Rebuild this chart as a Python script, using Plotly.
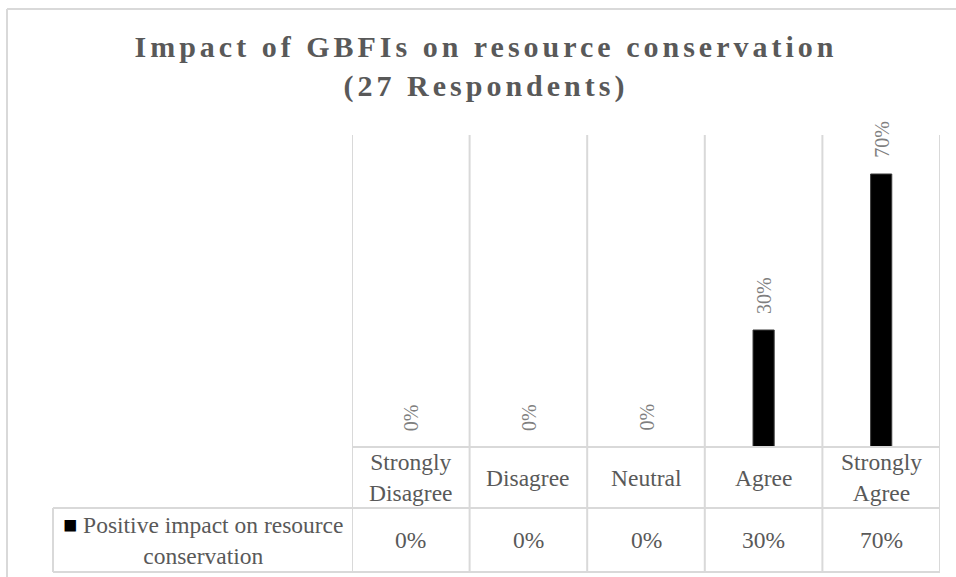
import plotly.graph_objects as go

# ---- data ----
categories = ["Strongly Disagree", "Disagree", "Neutral", "Agree", "Strongly Agree"]
category_labels = ["Strongly<br>Disagree", "Disagree", "Neutral", "Agree", "Strongly<br>Agree"]
values = [0.00, 0.00, 0.00, 0.30, 0.70]
series_name = "Positive impact on resource conservation"
series_label_lines = ["Positive impact on resource", "conservation"]
title_lines = ["Impact of GBFIs on resource conservation", "(27 Respondents)"]

# ---- page geometry (pixels) ----
W, H = 956, 577
FONT = "Liberation Serif"
TEXT = "#595959"
LABEL = "#7f7f7f"
RULE = "#d9d9d9"


def fx(px):
    return px / W


def fy(px):
    return 1 - px / H


PLOT_L, PLOT_R = 352, 940
PLOT_T, PLOT_B = 135, 447
ROW_SPLIT, TABLE_B = 508, 572
KEY_L = 53

xs = list(range(len(categories)))
pct = [f"{round(v * 100)}%" for v in values]

fig = go.Figure()
fig.add_trace(go.Bar(
    x=xs, y=values, name=series_name, width=0.18,
    marker=dict(color="#000000", line=dict(color="#3a3a3a", width=1)),
    hoverinfo="skip", showlegend=False,
))

annotations = []
# value labels above the bars
for x, v, t in zip(xs, values, pct):
    annotations.append(dict(
        x=x, y=v, xref="x", yref="y", text=t, textangle=-90,
        showarrow=False, yanchor="bottom", xanchor="center", yshift=14,
        font=dict(family=FONT, size=20, color=LABEL),
    ))
# data table: category row and value row
row1_mid = fy((PLOT_B + ROW_SPLIT) / 2)
row2_mid = fy((ROW_SPLIT + TABLE_B) / 2)
for x, lab, t in zip(xs, category_labels, pct):
    annotations.append(dict(
        x=x, y=row1_mid, xref="x", yref="paper", text=lab, showarrow=False,
        yanchor="middle", xanchor="center", align="center",
        font=dict(family=FONT, size=23.5, color=TEXT),
    ))
    annotations.append(dict(
        x=x, y=row2_mid, xref="x", yref="paper", text=t, showarrow=False,
        yanchor="middle", xanchor="center",
        font=dict(family=FONT, size=23.5, color=TEXT),
    ))
# series key cell
annotations.append(dict(
    x=fx((KEY_L + PLOT_L) / 2), y=row2_mid, xref="paper", yref="paper",
    text=("<span style='color:#000000'>\u25A0</span> "
          + series_label_lines[0] + "<br>" + series_label_lines[1]),
    showarrow=False, yanchor="middle", xanchor="center", align="center",
    font=dict(family=FONT, size=23.5, color=TEXT),
))

shapes = []
line = dict(color=RULE, width=2)
# outer chart border (top and left edges visible)
shapes.append(dict(type="line", xref="paper", yref="paper",
                   x0=fx(7), x1=1.0, y0=fy(9), y1=fy(9), line=line))
shapes.append(dict(type="line", xref="paper", yref="paper",
                   x0=fx(7), x1=fx(7), y0=fy(9), y1=0.0, line=line))
# category dividers through plot and table
for i in range(len(categories) + 1):
    shapes.append(dict(type="line", xref="x", yref="paper",
                       x0=i - 0.5, x1=i - 0.5, y0=fy(TABLE_B), y1=fy(PLOT_T),
                       line=line))
# horizontal table rules
shapes.append(dict(type="line", xref="paper", yref="paper",
                   x0=fx(PLOT_L), x1=fx(PLOT_R), y0=fy(PLOT_B), y1=fy(PLOT_B), line=line))
for yy in (ROW_SPLIT, TABLE_B):
    shapes.append(dict(type="line", xref="paper", yref="paper",
                       x0=fx(KEY_L), x1=fx(PLOT_R), y0=fy(yy), y1=fy(yy), line=line))
shapes.append(dict(type="line", xref="paper", yref="paper",
                   x0=fx(KEY_L), x1=fx(KEY_L), y0=fy(ROW_SPLIT), y1=fy(TABLE_B), line=line))

fig.update_layout(
    width=W, height=H, autosize=False,
    margin=dict(l=0, r=0, t=0, b=0),
    paper_bgcolor="white", plot_bgcolor="white",
    font=dict(family=FONT, color=TEXT),
    title=dict(
        text="<b>" + title_lines[0] + "<br>" + title_lines[1] + "</b>",
        x=fx(486), xanchor="center", xref="paper",
        y=fy(57), yanchor="top", yref="container",
        font=dict(family=FONT, size=30, color=TEXT),
    ),
    xaxis=dict(domain=[fx(PLOT_L), fx(PLOT_R)], range=[-0.5, len(categories) - 0.5],
               showgrid=False, zeroline=False, showticklabels=False, showline=False,
               fixedrange=True),
    yaxis=dict(domain=[fy(PLOT_B), fy(PLOT_T)], range=[0, 0.8],
               showgrid=False, zeroline=False, showticklabels=False, showline=False,
               fixedrange=True),
    annotations=annotations,
    shapes=shapes,
    showlegend=False,
)

spacing_js = ("document.querySelectorAll('.gtitle').forEach(function(e){"
              "e.style.letterSpacing='4px';});")
fig.write_html("out.html", post_script=spacing_js,
               config={"displayModeBar": False, "staticPlot": True})
